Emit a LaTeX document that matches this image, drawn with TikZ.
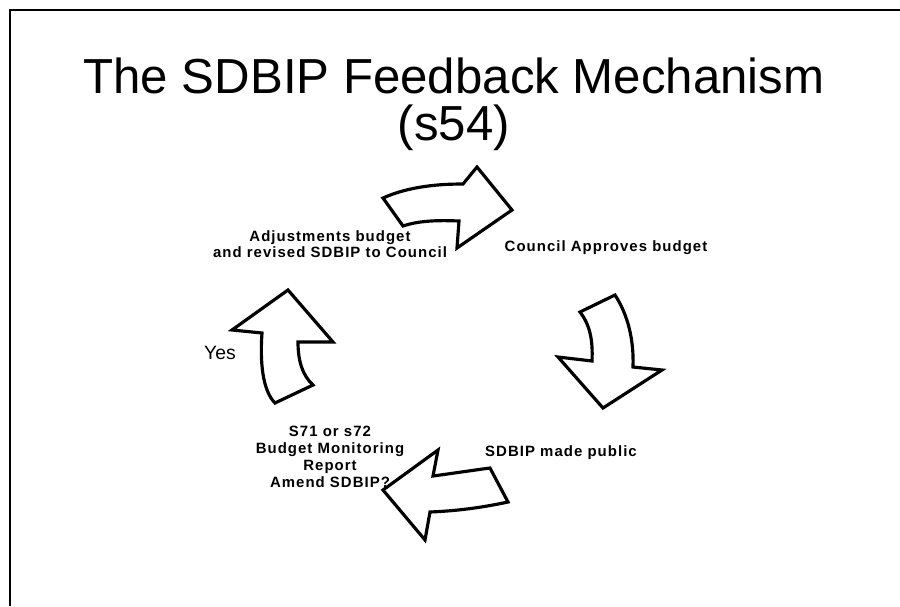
\documentclass[tikz,border=0pt]{standalone}
\usepackage{fontspec}
\setmainfont{Liberation Sans}
\newfontfamily\lblfont[LetterSpace=7]{Liberation Sans}
\usepackage{tikz}

\begin{document}
\begin{tikzpicture}[x=0.02cm, y=-0.02cm,
    lbl/.style={font=\lblfont\fontsize{8.5}{8}\selectfont\bfseries, align=center, inner sep=0pt},
    bigarrow/.style={draw, line width=1.8pt, fill=white, line join=miter}]
    \useasboundingbox (0,0) rectangle (900,606);
    \draw[line width=1.1pt] (10,606) -- (10,10) -- (900,10);

    \node[font=\fontsize{28}{26.5}\selectfont, align=center, inner sep=0pt] (title) at (454,104) {The SDBIP Feedback Mechanism\\(s54)};

    \node[lbl, font=\lblfont\fontsize{8.5}{7.3}\selectfont\bfseries] (adjust) at (330,244) {Adjustments budget\\and revised SDBIP to Council};
    \node[lbl] (approve) at (606,248) {Council Approves budget};
    \node[lbl] (public) at (561,453) {SDBIP made public};
    \node[lbl, font=\lblfont\fontsize{8.5}{9.8}\selectfont\bfseries] (monitor) at (330,457) {S71 or s72\\Budget Monitoring\\Report\\Amend SDBIP?};
    \node[font=\fontsize{11}{13}\selectfont, inner sep=0pt] (yes) at (220,353) {Yes};

    \draw[bigarrow] (383,198) .. controls (410,186) and (440,184) .. (463,184) -- (477,167)
        -- (512,210) -- (457,248) -- (459,221) .. controls (435,220) and (418,221) .. (403,226) -- cycle;
    \draw[bigarrow] (615,295) .. controls (628,315) and (634,340) .. (633,367) -- (662,370)
        -- (603,408) -- (558,357) -- (592,361) .. controls (593,340) and (590,325) .. (580,312) -- cycle;
    \draw[bigarrow] (508,502) .. controls (480,508) and (455,511) .. (430,512) -- (425,540)
        -- (383,490) -- (438,450) -- (433,476) .. controls (455,473) and (475,470) .. (490,468) -- cycle;
    \draw[bigarrow] (275,403) .. controls (262,390) and (260,360) .. (262,333) -- (232,330)
        -- (288,290) -- (333,342) -- (298,342) .. controls (298,360) and (302,375) .. (313,385) -- cycle;
\end{tikzpicture}
\end{document}
